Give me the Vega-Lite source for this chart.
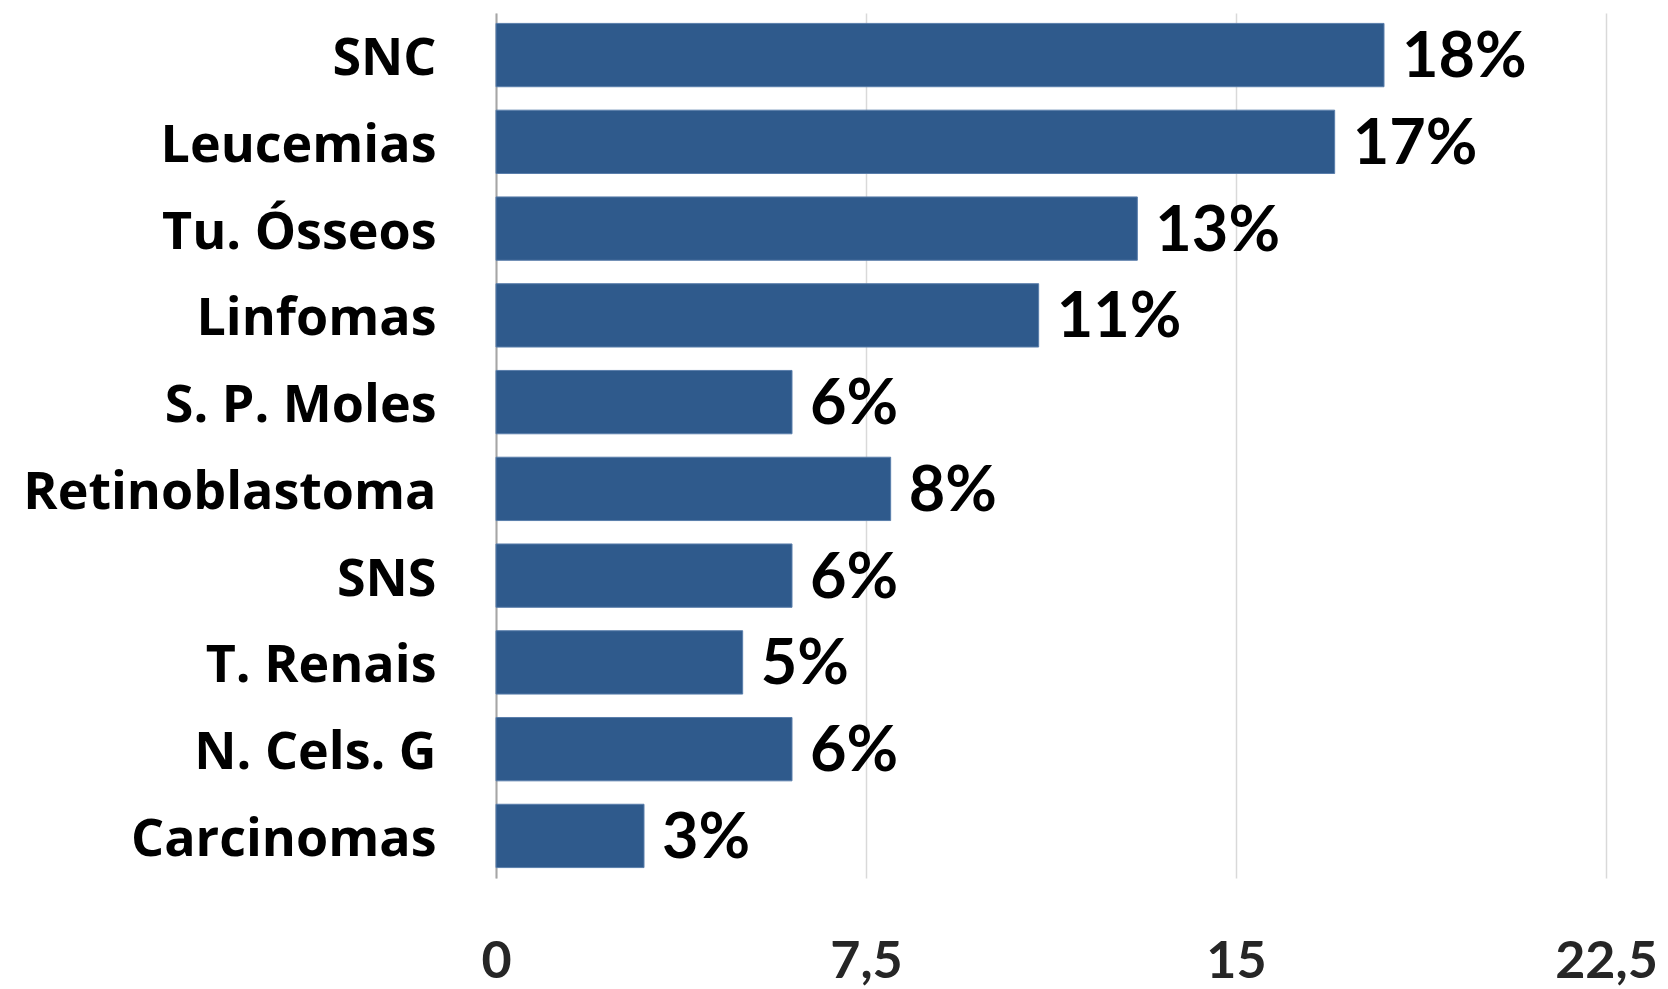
{
  "$schema": "https://vega.github.io/schema/vega-lite/v6.json",
  "width": 1110,
  "height": 865,
  "autosize": {"type": "none"},
  "padding": {"left": 496, "top": 13, "right": 62, "bottom": 111},
  "background": "white",
  "config": {
    "view": {"stroke": null},
    "font": "Lato"
  },
  "data": {
    "values": [
      {"cat": "SNC", "v": 18, "label": "18%"},
      {"cat": "Leucemias", "v": 17, "label": "17%"},
      {"cat": "Tu. Ósseos", "v": 13, "label": "13%"},
      {"cat": "Linfomas", "v": 11, "label": "11%"},
      {"cat": "S. P. Moles", "v": 6, "label": "6%"},
      {"cat": "Retinoblastoma", "v": 8, "label": "8%"},
      {"cat": "SNS", "v": 6, "label": "6%"},
      {"cat": "T. Renais", "v": 5, "label": "5%"},
      {"cat": "N. Cels. G", "v": 6, "label": "6%"},
      {"cat": "Carcinomas", "v": 3, "label": "3%"}
    ]
  },
  "encoding": {
    "y": {
      "field": "cat",
      "type": "nominal",
      "sort": null,
      "scale": {"paddingInner": 0.27, "paddingOuter": 0.12},
      "axis": {
        "title": null,
        "ticks": false,
        "domain": true,
        "domainColor": "#a6a6a6",
        "domainWidth": 2,
        "labelFont": "Open Sans",
        "labelFontWeight": "bold",
        "labelFontSize": 52,
        "labelColor": "#000000",
        "labelPadding": 60,
        "labelLimit": 600,
        "labelOffset": 4
      }
    },
    "x": {
      "field": "v",
      "type": "quantitative",
      "scale": {"domain": [0, 22.5], "nice": false},
      "axis": {
        "title": null,
        "values": [0, 7.5, 15, 22.5],
        "format": ".1~f",
        "labelExpr": "replace(datum.label, '.', ',')",
        "domain": false,
        "ticks": false,
        "grid": true,
        "gridColor": "#d9d9d9",
        "gridWidth": 1.5,
        "labelFont": "Lato",
        "labelFontWeight": "bold",
        "labelFontSize": 52,
        "labelColor": "#262626",
        "labelPadding": 58,
        "labelFlush": false
      }
    }
  },
  "layer": [
    {
      "mark": {"type": "bar", "color": "#2f5a8c", "stroke": "#5a7eab", "strokeWidth": 1}
    },
    {
      "mark": {
        "type": "text",
        "align": "left",
        "baseline": "middle",
        "dx": 18,
        "dy": 3,
        "font": "Lato",
        "fontWeight": "bold",
        "fontSize": 63,
        "color": "#000000"
      },
      "encoding": {"text": {"field": "label"}}
    }
  ]
}
